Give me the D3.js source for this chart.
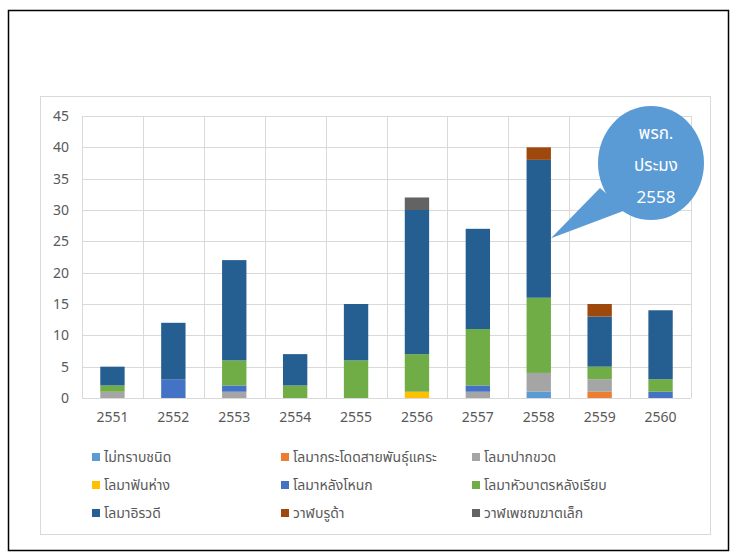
<!DOCTYPE html>
<html>
<head>
<meta charset="utf-8">
<script src="https://cdn.jsdelivr.net/npm/d3@7"></script>
<style>
    body { margin: 0; background: #fff; }
    svg text { font-family: "Noto Sans Thai", "Noto Sans", "DejaVu Sans", sans-serif; }
</style>
</head>
<body>
<div id="chart"></div>
<script>
// Data
const years = ["2551", "2552", "2553", "2554", "2555", "2556", "2557", "2558", "2559", "2560"];
const seriesNames = [
    "ไม่ทราบชนิด",
    "โลมากระโดดสายพันธุ์แคระ",
    "โลมาปากขวด",
    "โลมาฟันห่าง",
    "โลมาหลังโหนก",
    "โลมาหัวบาตรหลังเรียบ",
    "โลมาอิรวดี",
    "วาฬบรูด้า",
    "วาฬเพชฌฆาตเล็ก"
];
const unknownSp  = [0, 0, 0, 0, 0, 0, 0, 1, 0, 0];
const dwarfSpin  = [0, 0, 0, 0, 0, 0, 0, 0, 1, 0];
const bottlenose = [1, 0, 1, 0, 0, 0, 1, 3, 2, 0];
const roughTooth = [0, 0, 0, 0, 0, 1, 0, 0, 0, 0];
const humpback   = [0, 3, 1, 0, 0, 0, 1, 0, 0, 1];
const porpoise   = [1, 0, 4, 2, 6, 6, 9, 12, 2, 2];
const irrawaddy  = [3, 9, 16, 5, 9, 23, 16, 22, 8, 11];
const brydes     = [0, 0, 0, 0, 0, 0, 0, 2, 2, 0];
const pygmyKiller= [0, 0, 0, 0, 0, 2, 0, 0, 0, 0];
const yTicks = [0, 5, 10, 15, 20, 25, 30, 35, 40, 45];
const calloutLines = ["พรก.", "ประมง", "2558"];

const seriesValues = [unknownSp, dwarfSpin, bottlenose, roughTooth, humpback, porpoise, irrawaddy, brydes, pygmyKiller];
const colors = ["#5B9BD5", "#ED7D31", "#A5A5A5", "#FFC000", "#4472C4", "#70AD47", "#255E91", "#9E480E", "#636363"];

const W = 736, H = 557;
const plot = { left: 82, right: 691, top: 116, bottom: 398 };

const svg = d3.select("#chart").append("svg")
    .attr("width", W).attr("height", H);

// outer black frame and chart area border
svg.append("rect").attr("x", 8.5).attr("y", 10.5).attr("width", 720).attr("height", 540)
    .attr("fill", "#fff").attr("stroke", "#000").attr("stroke-width", 1.5);
svg.append("rect").attr("x", 40.5).attr("y", 96.5).attr("width", 670).attr("height", 438)
    .attr("fill", "#fff").attr("stroke", "#D9D9D9").attr("stroke-width", 1);

const rows = years.map((yr, i) => {
    const r = { year: yr };
    seriesNames.forEach((s, k) => r[s] = seriesValues[k][i]);
    return r;
});

const x = d3.scaleBand().domain(years).range([plot.left, plot.right]).paddingInner(0.6).paddingOuter(0.3);
const xGrid = d3.scaleBand().domain(years).range([plot.left, plot.right]);
const y = d3.scaleLinear().domain([0, 45]).range([plot.bottom, plot.top]);
const color = d3.scaleOrdinal().domain(seriesNames).range(colors);
const stacked = d3.stack().keys(seriesNames)(rows);

// Gridlines
svg.append("g").selectAll("line").data(yTicks).enter().append("line")
    .attr("x1", plot.left).attr("x2", plot.right)
    .attr("y1", d => Math.round(y(d)) + 0.5).attr("y2", d => Math.round(y(d)) + 0.5)
    .attr("stroke", "#D9D9D9");
svg.append("g").selectAll("line").data(years.concat(["end"])).enter().append("line")
    .attr("x1", (d, i) => Math.round(plot.left + i * xGrid.step()) + 0.5)
    .attr("x2", (d, i) => Math.round(plot.left + i * xGrid.step()) + 0.5)
    .attr("y1", plot.top).attr("y2", plot.bottom)
    .attr("stroke", "#D9D9D9");

// Axes
const yAxis = svg.append("g").attr("transform", `translate(${plot.left},0)`)
    .call(d3.axisLeft(y).tickValues(yTicks).tickSize(0).tickPadding(13));
yAxis.select(".domain").remove();
yAxis.selectAll(".tick text").style("font-size", "14px").style("fill", "#595959");

const xAxis = svg.append("g").attr("transform", `translate(0,${plot.bottom})`)
    .call(d3.axisBottom(x).tickSize(0).tickPadding(14));
xAxis.select(".domain").remove();
xAxis.selectAll(".tick text").style("font-size", "14px").style("fill", "#595959");

// Bars
const layer = svg.selectAll(".layer").data(stacked).enter().append("g")
    .attr("class", "layer").attr("fill", d => color(d.key));
layer.selectAll("rect").data(d => d).enter().append("rect")
    .attr("x", d => x(d.data.year))
    .attr("y", d => y(d[1]))
    .attr("width", x.bandwidth())
    .attr("height", d => Math.max(0, y(d[0]) - y(d[1])));

// Callout
const cx = 651, cy = 163;
const tipX = x("2558") + x.bandwidth(), tipY = y(25.5);
svg.append("path")
    .attr("d", `M${tipX},${tipY} L600,188 L626,210 Z`)
    .attr("fill", "#5B9BD5");
svg.append("ellipse").attr("cx", cx).attr("cy", cy).attr("rx", 53).attr("ry", 57)
    .attr("fill", "#5B9BD5");
svg.append("g").selectAll("text").data(calloutLines).enter().append("text")
    .attr("x", cx + 5).attr("y", (d, i) => 139 + i * 32)
    .attr("text-anchor", "middle")
    .style("font-size", "17px").style("fill", "#fff")
    .text(d => d);

// Legend
const legendCols = [92, 281, 472];
const legendRows = [457, 485, 513];
const legend = svg.append("g");
seriesNames.forEach((name, i) => {
    const g = legend.append("g")
        .attr("transform", `translate(${legendCols[i % 3]},${legendRows[Math.floor(i / 3)]})`);
    g.append("rect").attr("x", 0).attr("y", -4).attr("width", 8).attr("height", 8).attr("fill", colors[i]);
    g.append("text").attr("x", 12).attr("y", 5).style("font-size", "14px").style("fill", "#595959").text(name);
});
</script>
</body>
</html>
